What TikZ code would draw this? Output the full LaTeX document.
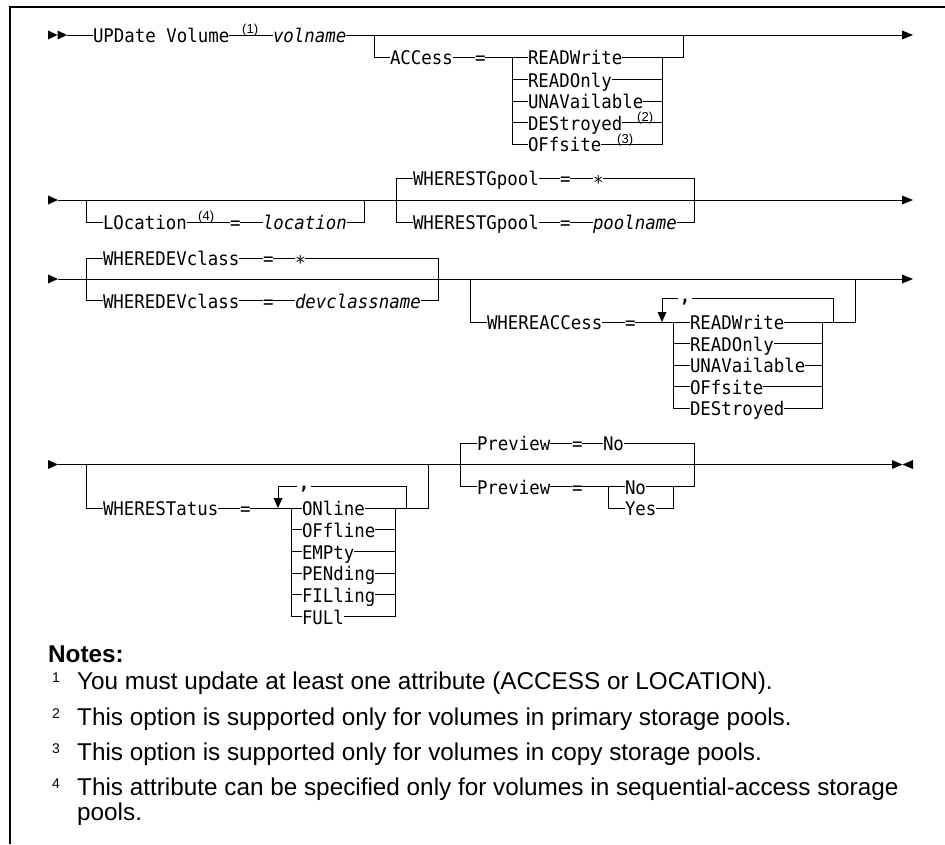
\documentclass[tikz,border=0pt]{standalone}
\usepackage{fontspec}
\newfontfamily\rrmono{DejaVu Sans Mono}[ItalicFont={DejaVu Sans Mono Oblique},FakeStretch=0.926]
\newfontfamily\notesf{Liberation Sans}
\begin{document}
\begin{tikzpicture}[x=1pt,y=-1pt,
  rr/.style={line width=1pt},
  kw/.style={font=\rrmono\fontsize{18.8}{22}\selectfont, inner sep=0pt, outer sep=0pt, text height=15.6pt, text depth=0pt, anchor=west},
  kwi/.style={kw, font=\rrmono\itshape\fontsize{18.8}{22}\selectfont},
  supn/.style={font=\notesf\fontsize{13}{15}\selectfont, inner sep=0pt, anchor=base west},
  comma/.style={font=\rrmono\bfseries\fontsize{18.8}{22}\selectfont, inner sep=1.5pt, fill=white},
  note/.style={font=\notesf\fontsize{24.3}{28}\selectfont, inner sep=0pt, anchor=base west},
  notehd/.style={font=\notesf\bfseries\fontsize{24.3}{28}\selectfont, inner sep=0pt, anchor=base west},
  notenum/.style={font=\notesf\fontsize{14}{16}\selectfont, inner sep=0pt, anchor=base west},
  frame/.style={line width=1.4pt}]
\useasboundingbox (0,0) rectangle (945,844);
\fill[white] (0,0) rectangle (945,844);
% frame
\coordinate (fTR) at (945,7); \coordinate (fTL) at (10,7); \coordinate (fBL) at (10,844);
\draw[frame] (fTR) -- (fTL) -- (fBL);

% ================= Row 1
\coordinate (m1s) at (67,35); \coordinate (m1t) at (902,35); \coordinate (m1e) at (913,35);
\fill (48,30.5) -- (57.5,35) -- (48,39.5) -- cycle;
\fill (57.5,30.5) -- (m1s) -- (57.5,39.5) -- cycle;
\fill (m1e) -- (902,30.5) -- (902,39.5) -- cycle;
\node[kw] (upd) at (93,35) {UPDate Volume};
\node[supn] (s1) at (242,33) {(1)};
\node[kwi] (vol) at (273,35) {volname};
\draw[rr] (m1s) -- (upd.west);
\draw[rr] (upd.east) -- (vol.west);
\draw[rr] (vol.east) -- (m1t);
% ACCess group
\coordinate (aJ) at (374,35); \coordinate (aO) at (683,35);
\coordinate (aL) at (512,57); \coordinate (aR) at (662,57);
\node[kw] (acc) at (390,57) {ACCess};
\node[kw] (aeq) at (475,57) {=};
\node[kw] (a1) at (528,57) {READWrite};
\node[kw] (a2) at (528,79.5) {READOnly};
\node[kw] (a3) at (528,101) {UNAVailable};
\node[kw] (a4) at (528,122.5) {DEStroyed};
\node[kw] (a5) at (528,144) {OFfsite};
\node[supn] (s2) at (637,121.5) {(2)};
\node[supn] (s3) at (617,143) {(3)};
\draw[rr] (aJ) |- (acc.west);
\draw[rr] (acc.east) -- (aeq.west);
\draw[rr] (aeq.east) -- (a1.west);
\draw[rr] (a1.east) -| (aO);
\draw[rr] (aL) |- (a5.west);
\foreach \n in {a2,a3,a4} {\draw[rr] (aL |- \n.west) -- (\n.west); \draw[rr] (\n.east) -- (aR |- \n.east);}
\draw[rr] (aR) |- (a5.east);

% ================= Row 2
\coordinate (m2s) at (58,200); \coordinate (m2t) at (902,200); \coordinate (m2e) at (913,200);
\fill (48,195.5) -- (m2s) -- (48,204.5) -- cycle;
\draw[rr] (m2s) -- (m2t);
\fill (m2e) -- (902,195.5) -- (902,204.5) -- cycle;
% LOcation
\coordinate (lJ) at (86,200); \coordinate (lO) at (364,200);
\node[kw] (loc) at (103,222) {LOcation};
\node[supn] (s4) at (198,220) {(4)};
\node[kw] (leq) at (230,222) {=};
\node[kwi] (locv) at (263,222) {location};
\draw[rr] (lJ) |- (loc.west);
\draw[rr] (loc.east) -- (leq.west);
\draw[rr] (leq.east) -- (locv.west);
\draw[rr] (locv.east) -| (lO);
% WHERESTGpool
\coordinate (gL) at (396,178); \coordinate (gR) at (694,178);
\node[kw] (g1) at (413,178) {WHERESTGpool};
\node[kw] (geq1) at (560,178) {=};
\node[kw] (gst) at (593,178) {\raisebox{-3.5pt}{*}};
\node[kw] (g2) at (413,222) {WHERESTGpool};
\node[kw] (geq2) at (560,222) {=};
\node[kwi] (gpn) at (593,222) {poolname};
\draw[rr] (g1.west) -- (gL) |- (g2.west);
\draw[rr] (g1.east) -- (geq1.west);
\draw[rr] (geq1.east) -- (gst.west);
\draw[rr] (gst.east) -- (gR) |- (gpn.east);
\draw[rr] (g2.east) -- (geq2.west);
\draw[rr] (geq2.east) -- (gpn.west);

% ================= Row 3
\coordinate (m3s) at (58,279); \coordinate (m3t) at (902,279); \coordinate (m3e) at (913,279);
\fill (48,274.5) -- (m3s) -- (48,283.5) -- cycle;
\draw[rr] (m3s) -- (m3t);
\fill (m3e) -- (902,274.5) -- (902,283.5) -- cycle;
% WHEREDEVclass
\coordinate (dL) at (86,258); \coordinate (dR) at (438,258);
\node[kw] (d1) at (103,258) {WHEREDEVclass};
\node[kw] (deq1) at (263,258) {=};
\node[kw] (dst) at (295,258) {\raisebox{-3.5pt}{*}};
\node[kw] (d2) at (103,300.5) {WHEREDEVclass};
\node[kw] (deq2) at (263,300.5) {=};
\node[kwi] (dcn) at (295,300.5) {devclassname};
\draw[rr] (d1.west) -- (dL) |- (d2.west);
\draw[rr] (d1.east) -- (deq1.west);
\draw[rr] (deq1.east) -- (dst.west);
\draw[rr] (dst.east) -- (dR) |- (dcn.east);
\draw[rr] (d2.east) -- (deq2.west);
\draw[rr] (deq2.east) -- (dcn.west);
% WHEREACCess
\coordinate (wJ) at (470,279); \coordinate (wO) at (855,279);
\coordinate (wL) at (673,322); \coordinate (wR) at (822,322);
\coordinate (wLA) at (662,298.5); \coordinate (wLB) at (833,298.5);
\coordinate (wTb) at (662,312); \coordinate (wTip) at (662,322);
\node[kw] (w) at (487,322) {WHEREACCess};
\node[kw] (weq) at (625,322) {=};
\node[kw] (w1) at (690,322) {READWrite};
\node[kw] (w2) at (690,343.5) {READOnly};
\node[kw] (w3) at (690,365) {UNAVailable};
\node[kw] (w4) at (690,386.5) {OFfsite};
\node[kw] (w5) at (690,408) {DEStroyed};
\draw[rr] (wJ) |- (w.west);
\draw[rr] (w.east) -- (weq.west);
\draw[rr] (weq.east) -- (w1.west);
\draw[rr] (w1.east) -| (wO);
\draw[rr] (wL) |- (w5.west);
\foreach \n in {w2,w3,w4} {\draw[rr] (wL |- \n.west) -- (\n.west); \draw[rr] (\n.east) -- (wR |- \n.east);}
\draw[rr] (wR) |- (w5.east);
\draw[rr] (wLB |- w1.east) -- (wLB) -- (wLA) -- (wTb);
\fill (wTip) -- (657.5,312) -- (666.5,312) -- cycle;
\node[comma] (wc) at (685,302) {,};

% ================= Row 4
\coordinate (m4s) at (58,464.5); \coordinate (m4t) at (892,464.5);
\fill (48,460) -- (m4s) -- (48,469) -- cycle;
\draw[rr] (m4s) -- (m4t);
\fill (892,460) -- (902.5,464.5) -- (892,469) -- cycle;
\fill (913,460) -- (902.5,464.5) -- (913,469) -- cycle;
% WHERESTatus
\coordinate (tJ) at (86,464.5); \coordinate (tO) at (428,464.5);
\coordinate (tL) at (291,508); \coordinate (tR) at (395,508);
\coordinate (tLA) at (278,486.2); \coordinate (tLB) at (406,486.2);
\coordinate (tTb) at (278,498); \coordinate (tTip) at (278,508);
\node[kw] (t) at (103,508) {WHERESTatus};
\node[kw] (teq) at (240,508) {=};
\node[kw] (t1) at (302,508) {ONline};
\node[kw] (t2) at (302,529.7) {OFfline};
\node[kw] (t3) at (302,551.4) {EMPty};
\node[kw] (t4) at (302,573.1) {PENding};
\node[kw] (t5) at (302,594.8) {FILling};
\node[kw] (t6) at (302,616.5) {FULl};
\draw[rr] (tJ) |- (t.west);
\draw[rr] (t.east) -- (teq.west);
\draw[rr] (teq.east) -- (t1.west);
\draw[rr] (t1.east) -| (tO);
\draw[rr] (tL) |- (t6.west);
\foreach \n in {t2,t3,t4,t5} {\draw[rr] (tL |- \n.west) -- (\n.west); \draw[rr] (\n.east) -- (tR |- \n.east);}
\draw[rr] (tR) |- (t6.east);
\draw[rr] (tLB |- t1.east) -- (tLB) -- (tLA) -- (tTb);
\fill (tTip) -- (273.5,498) -- (282.5,498) -- cycle;
\node[comma] (tc) at (304,489) {,};
% Preview
\coordinate (pL) at (460,443); \coordinate (pR) at (694,443);
\coordinate (nyL) at (608,486.2); \coordinate (nyR) at (673,486.2);
\node[kw] (p1) at (477,443) {Preview};
\node[kw] (peq1) at (572,443) {=};
\node[kw] (pno1) at (603,443) {No};
\node[kw] (p2) at (477,486.2) {Preview};
\node[kw] (peq2) at (572,486.2) {=};
\node[kw] (pno2) at (625,486.2) {No};
\node[kw] (pyes) at (625,508) {Yes};
\draw[rr] (p1.west) -- (pL) |- (p2.west);
\draw[rr] (p1.east) -- (peq1.west);
\draw[rr] (peq1.east) -- (pno1.west);
\draw[rr] (pno1.east) -- (pR) |- (pno2.east);
\draw[rr] (p2.east) -- (peq2.west);
\draw[rr] (peq2.east) -- (pno2.west);
\draw[rr] (nyL) |- (pyes.west);
\draw[rr] (pyes.east) -| (nyR);

% ================= Notes
\node[notehd] (nh) at (48,662) {Notes:};
\node[notenum] (k1) at (52,682) {1};
\node[note] (n1) at (77,689) {You must update at least one attribute (ACCESS or LOCATION).};
\node[notenum] (k2) at (52,718) {2};
\node[note] (n2) at (77,725) {This option is supported only for volumes in primary storage pools.};
\node[notenum] (k3) at (52,753) {3};
\node[note] (n3) at (77,760) {This option is supported only for volumes in copy storage pools.};
\node[notenum] (k4) at (52,788) {4};
\node[note] (n4) at (77,795) {This attribute can be specified only for volumes in sequential-access storage};
\node[note] (n4b) at (77,820) {pools.};
\end{tikzpicture}
\end{document}
